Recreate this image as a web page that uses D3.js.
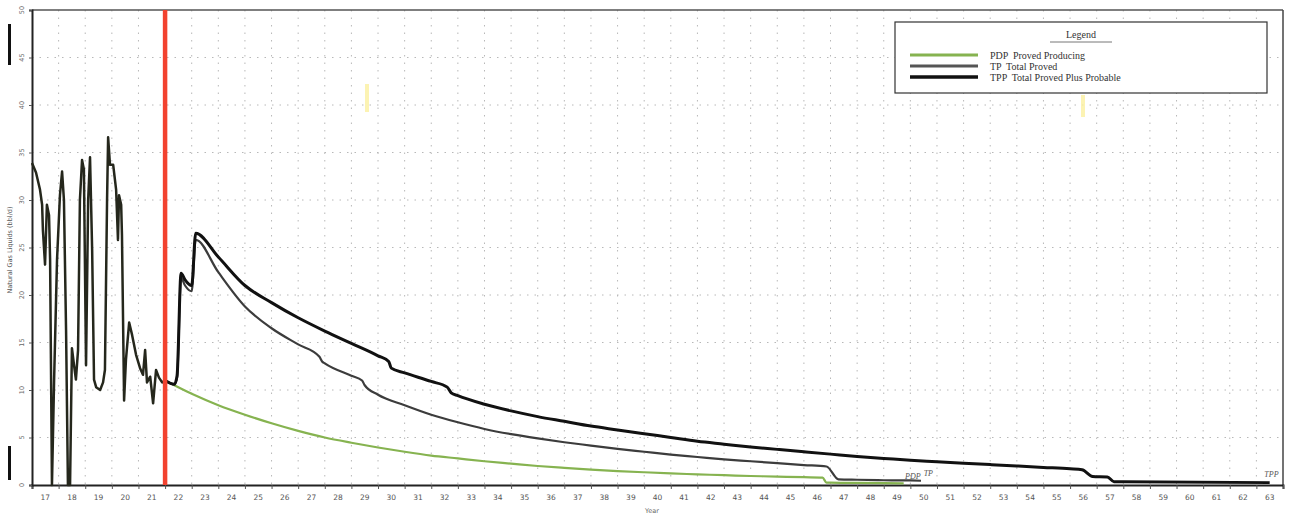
<!DOCTYPE html>
<html>
<head>
<meta charset="utf-8">
<script src="https://cdn.jsdelivr.net/npm/d3@7"></script>
<style>
  body { margin: 0; background: #fff; }
  svg { display: block; }
</style>
</head>
<body>
<script>
const width = 1292;
const height = 516;

// Historical production (year fraction, shared by all reserve classes)
const histYear = [17.00, 17.15, 17.30, 17.38, 17.41, 17.49, 17.56, 17.64, 17.68, 17.75, 17.83, 17.94,
  18.05, 18.13, 18.20, 18.28, 18.35, 18.43, 18.50, 18.58, 18.65, 18.73, 18.80, 18.88, 18.95,
  19.03, 19.11, 19.18, 19.26, 19.33, 19.41, 19.56, 19.67, 19.74, 19.82, 19.86, 19.93,
  20.05, 20.16, 20.23, 20.27, 20.35, 20.38, 20.46, 20.53, 20.65, 20.76, 20.91,
  21.06, 21.17, 21.25, 21.32, 21.44, 21.55, 21.66, 21.77, 21.89, 22.00];
const histValue = [33.9, 32.9, 31.1, 29.5, 26.8, 23.2, 29.5, 28.4, 23.7, 0, 11.0, 23.7,
  30.5, 33.0, 30.0, 16.3, 0, 0, 14.4, 12.6, 11.1, 14.2, 30.0, 34.2, 33.2,
  12.6, 30.0, 34.5, 24.7, 11.1, 10.3, 10.0, 10.8, 12.1, 30.0, 36.6, 33.7,
  33.7, 31.1, 25.8, 30.5, 29.5, 26.3, 8.9, 13.2, 17.1, 15.8, 13.7,
  12.3, 11.6, 14.2, 10.8, 11.4, 8.6, 12.1, 11.3, 10.8, 11.0];

// Forecasts
const pdpYear = [22, 23, 24, 25, 26, 27, 28, 29, 30, 31, 32, 33, 34, 35, 36, 37, 38, 39, 40,
  41, 42, 43, 44, 45, 46, 46.7, 46.85, 47, 48, 49, 49.75];
const pdpValue = [11.0, 9.6, 8.4, 7.4, 6.5, 5.7, 5.0, 4.45, 3.95, 3.5, 3.1, 2.8, 2.5, 2.25, 2.0,
  1.8, 1.62, 1.47, 1.34, 1.22, 1.12, 1.03, 0.95, 0.88, 0.82, 0.78, 0.25, 0.24, 0.22, 0.2, 0.18];

const tpYear = [22, 22.35, 22.45, 22.6, 22.75, 23.0, 23.15, 24, 25, 26, 27, 27.8, 27.9, 28, 29,
  29.4, 29.5, 30, 31, 32, 33, 34, 35, 36, 37, 38, 39, 40, 41, 42, 43, 44, 45, 46, 46.85,
  47.3, 48, 49, 50, 50.4];
const tpValue = [11.0, 10.6, 11.3, 21.8, 21.0, 20.4, 25.8, 22.4, 18.8, 16.5, 14.8, 13.5, 13.0, 12.8, 11.5,
  11.0, 10.5, 9.5, 8.4, 7.4, 6.6, 5.9, 5.35, 4.9, 4.5, 4.15, 3.8, 3.5, 3.2, 2.95, 2.7, 2.5, 2.3, 2.1, 1.95,
  0.6, 0.55, 0.5, 0.48, 0.45];

const tppYear = [22, 22.35, 22.45, 22.6, 22.75, 23.0, 23.15, 24, 25, 26, 27, 28, 29, 30, 30.4,
  30.5, 31, 32, 32.6, 32.75, 33, 34, 35, 36, 37, 38, 39, 40, 41, 42, 43, 44, 45, 46, 47, 48,
  49, 50, 51, 52, 53, 54, 55, 56, 56.45, 56.85, 57.4, 57.65, 58, 63.5];
const tppValue = [11.0, 10.6, 11.5, 22.3, 21.6, 21.0, 26.5, 24.0, 21.0, 19.2, 17.6, 16.2, 14.9, 13.6, 13.0,
  12.3, 11.8, 10.9, 10.3, 9.7, 9.4, 8.5, 7.8, 7.2, 6.7, 6.2, 5.8, 5.4, 5.0, 4.6, 4.3, 4.0, 3.75, 3.5, 3.25, 3.0,
  2.8, 2.6, 2.45, 2.3, 2.15, 2.0, 1.85, 1.7, 1.6, 0.9, 0.85, 0.35, 0.33, 0.25];

const yearLabels = d3.range(17, 64);
const yTicks = d3.range(0, 51, 5);
const effectiveYear = 22;

const legendItems = [
  { label: "PDP  Proved Producing", color: "#86b350", w: 3 },
  { label: "TP  Total Proved", color: "#555555", w: 3 },
  { label: "TPP  Total Proved Plus Probable", color: "#111111", w: 3.5 }
];

const margin = { top: 10, right: 9, bottom: 31, left: 32 };

const x = d3.scaleLinear().domain([17, 64]).range([margin.left, width - margin.right]);
const y = d3.scaleLinear().domain([0, 50]).range([height - margin.bottom, margin.top]);

const svg = d3.select("body").append("svg")
  .attr("width", width)
  .attr("height", height);

// Grid
svg.append("g")
  .selectAll("line")
  .data(d3.range(18, 64))
  .join("line")
    .attr("x1", d => x(d)).attr("x2", d => x(d))
    .attr("y1", y(50)).attr("y2", y(0))
    .attr("stroke", "#b8b8b8")
    .attr("stroke-width", 1)
    .attr("stroke-dasharray", "1.5,6");

svg.append("g")
  .selectAll("line")
  .data(yTicks.slice(1, -1))
  .join("line")
    .attr("x1", x(17)).attr("x2", x(64))
    .attr("y1", d => y(d)).attr("y2", d => y(d))
    .attr("stroke", "#b8b8b8")
    .attr("stroke-width", 1)
    .attr("stroke-dasharray", "1.5,6");

// Frame
svg.append("line")
  .attr("x1", x(17)).attr("x2", x(64)).attr("y1", y(50)).attr("y2", y(50))
  .attr("stroke", "#555").attr("stroke-width", 1.5);
svg.append("line")
  .attr("x1", x(64)).attr("x2", x(64)).attr("y1", y(50)).attr("y2", y(0))
  .attr("stroke", "#444").attr("stroke-width", 1.5);

// Axes
const xAxis = d3.axisBottom(x)
  .tickValues(d3.range(17, 65))
  .tickSize(4)
  .tickFormat("");
svg.append("g")
  .attr("transform", `translate(0,${y(0)})`)
  .call(xAxis)
  .call(g => g.select(".domain").attr("stroke", "#222").attr("stroke-width", 2))
  .call(g => g.selectAll(".tick line").attr("stroke", "#555"));

svg.append("g")
  .selectAll("text")
  .data(yearLabels)
  .join("text")
    .attr("x", d => x(d + 0.5))
    .attr("y", y(0) + 15)
    .attr("text-anchor", "middle")
    .attr("font-family", "DejaVu Sans, sans-serif")
    .attr("font-size", 7.5)
    .attr("fill", "#555")
    .text(d => d);

const yAxis = d3.axisLeft(y).tickValues(yTicks).tickSize(3).tickFormat("");
svg.append("g")
  .attr("transform", `translate(${x(17)},0)`)
  .call(yAxis)
  .call(g => g.select(".domain").attr("stroke", "#222").attr("stroke-width", 2))
  .call(g => g.selectAll(".tick line").attr("stroke", "#555"));

svg.append("g")
  .selectAll("text")
  .data(yTicks)
  .join("text")
    .attr("transform", d => `translate(${x(17) - 8},${y(d)}) rotate(-90)`)
    .attr("text-anchor", "middle")
    .attr("font-family", "DejaVu Sans, sans-serif")
    .attr("font-size", 6.5)
    .attr("fill", "#666")
    .text(d => d);

// Axis titles
svg.append("text")
  .attr("transform", `translate(12,250) rotate(-90)`)
  .attr("text-anchor", "middle")
  .attr("font-family", "DejaVu Sans, sans-serif")
  .attr("font-size", 6.5)
  .attr("fill", "#555")
  .text("Natural Gas Liquids (bbl/d)");

svg.append("text")
  .attr("x", 652).attr("y", 513)
  .attr("text-anchor", "middle")
  .attr("font-family", "DejaVu Sans, sans-serif")
  .attr("font-size", 6.5)
  .attr("fill", "#666")
  .text("Year");

// Series
const line = d3.line().x(d => x(d[0])).y(d => y(d[1]));
const smooth = d3.line().x(d => x(d[0])).y(d => y(d[1])).curve(d3.curveMonotoneX);

const pdp = d3.zip(pdpYear, pdpValue);
const tp = d3.zip(tpYear, tpValue);
const tpp = d3.zip(tppYear, tppValue);
const hist = d3.zip(histYear, histValue);

svg.append("path").datum(pdp).attr("d", smooth)
  .attr("fill", "none").attr("stroke", "#86b350").attr("stroke-width", 2.2);
svg.append("path").datum(tp).attr("d", smooth)
  .attr("fill", "none").attr("stroke", "#3c3c3c").attr("stroke-width", 2.2);
svg.append("path").datum(tpp).attr("d", smooth)
  .attr("fill", "none").attr("stroke", "#111").attr("stroke-width", 3);
svg.append("path").datum(hist).attr("d", line)
  .attr("fill", "none").attr("stroke", "#25271c").attr("stroke-width", 2.5)
  .attr("stroke-linejoin", "round");

// Effective date marker
svg.append("line")
  .attr("x1", x(effectiveYear)).attr("x2", x(effectiveYear))
  .attr("y1", y(50)).attr("y2", y(0))
  .attr("stroke", "#f2422f").attr("stroke-width", 4.5);

// End labels
const endLabels = [
  { text: "PDP", yr: 49.8, v: 0.6 },
  { text: "TP", yr: 50.5, v: 1.0 },
  { text: "TPP", yr: 63.3, v: 0.8 }
];
svg.append("g")
  .selectAll("text")
  .data(endLabels)
  .join("text")
    .attr("x", d => x(d.yr)).attr("y", d => y(d.v))
    .attr("font-family", "Liberation Serif, serif")
    .attr("font-style", "italic")
    .attr("font-size", 8)
    .attr("fill", "#555")
    .text(d => d.text);

// Legend
const lg = svg.append("g").attr("transform", "translate(895,22)");
lg.append("rect")
  .attr("width", 372).attr("height", 71)
  .attr("fill", "#fff").attr("stroke", "#333").attr("stroke-width", 1.2);
lg.append("text")
  .attr("x", 186).attr("y", 16)
  .attr("text-anchor", "middle")
  .attr("font-family", "Liberation Serif, serif")
  .attr("font-size", 10)
  .attr("fill", "#333")
  .text("Legend");
lg.append("line")
  .attr("x1", 155).attr("x2", 217).attr("y1", 20).attr("y2", 20)
  .attr("stroke", "#777").attr("stroke-width", 1);
const entry = lg.selectAll("g.entry")
  .data(legendItems)
  .join("g")
    .attr("class", "entry")
    .attr("transform", (d, i) => `translate(0,${33 + i * 11})`);
entry.append("line")
  .attr("x1", 15).attr("x2", 83)
  .attr("stroke", d => d.color).attr("stroke-width", d => d.w);
entry.append("text")
  .attr("x", 95).attr("y", 4)
  .attr("font-family", "Liberation Serif, serif")
  .attr("font-size", 10)
  .attr("fill", "#333")
  .attr("xml:space", "preserve")
  .text(d => d.label);

// Scan marks
svg.append("rect").attr("x", 8).attr("y", 24).attr("width", 3).attr("height", 41).attr("fill", "#111");
svg.append("rect").attr("x", 8).attr("y", 446).attr("width", 3).attr("height", 34).attr("fill", "#111");
svg.append("rect").attr("x", 365).attr("y", 84).attr("width", 4).attr("height", 28).attr("fill", "#fbf0a0").attr("opacity", 0.8);
svg.append("rect").attr("x", 1081).attr("y", 95).attr("width", 4).attr("height", 22).attr("fill", "#fbf0a0").attr("opacity", 0.8);
</script>
</body>
</html>
